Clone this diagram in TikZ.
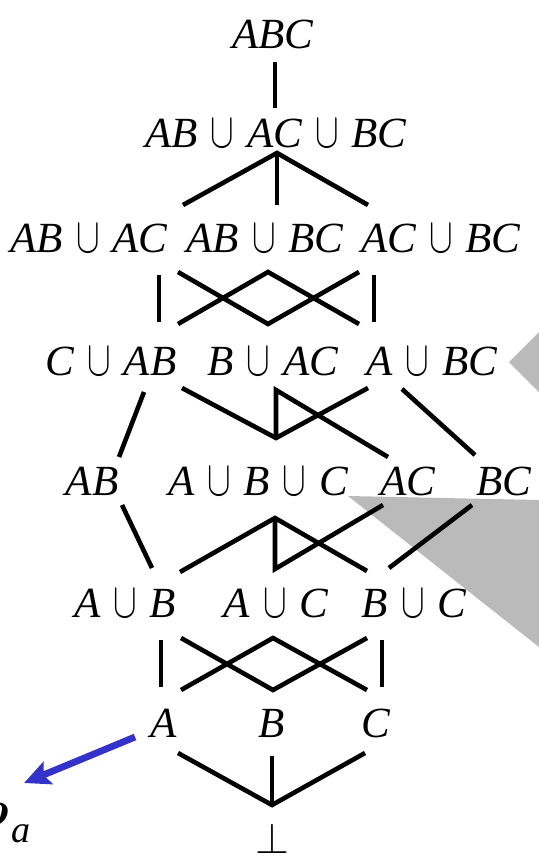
\documentclass[tikz,border=0pt]{standalone}
\usepackage{amsmath, amssymb}
\usepackage{fontspec}
\setmainfont{Liberation Serif}
\usepackage{xcolor}
\usepackage{tikz}
\usetikzlibrary{arrows.meta}

\definecolor{pointerblue}{RGB}{51,51,204}
\definecolor{shadegray}{gray}{0.73}
\newcommand{\un}{\hspace{0.3em}\scalebox{0.85}[1.2]{$\cup$}\hspace{0.3em}}

\begin{document}
\begin{tikzpicture}[
    x=0.5pt, y=-0.5pt,
    lbl/.style={inner sep=0pt, anchor=base, font=\fontsize{21.5}{25}\selectfont\itshape},
    edge/.style={line width=2.3pt, line join=miter},
    pointer/.style={line width=3.4pt, draw=pointerblue, -{Stealth[length=13pt, width=12pt, inset=2.5pt]}}
]
\clip (0,0) rectangle (539,857);

% Grey callouts (behind everything)
\fill[shadegray] (509,362) -- (539,332) -- (539,392) -- cycle;
\fill[shadegray] (348,496) -- (539,500) -- (539,647) -- cycle;

% Top
\node[lbl] (abc) at (273,48) {ABC};
\node[lbl] (abacbc) at (276,147) {AB\un AC\un BC};

% Unions of two pairs
\node[lbl] (abac) at (89,252) {AB\un AC};
\node[lbl] (abbc) at (265,252) {AB\un BC};
\node[lbl] (acbc) at (441,252) {AC\un BC};

% Pair plus single
\node[lbl] (cab) at (111,375) {C\un AB};
\node[lbl] (bac) at (273,375) {B\un AC};
\node[lbl] (abc2) at (432,375) {A\un BC};

% Pairs and all singles
\node[lbl] (ab) at (92,495) {AB};
\node[lbl] (aubuc) at (258,495) {A\un B\un C};
\node[lbl] (ac) at (408,495) {AC};
\node[lbl] (bc) at (504,495) {BC};

% Two singles
\node[lbl] (aub) at (125,617) {A\un B};
\node[lbl] (auc) at (276,617) {A\un C};
\node[lbl] (buc) at (414,617) {B\un C};

% Singles and bottom
\node[lbl] (a) at (164,737) {A};
\node[lbl] (b) at (272,737) {B};
\node[lbl] (c) at (376,737) {C};
\node[lbl] (bot) at (272,853) {\scalebox{1.05}{$\bot$}};

% Junctions
\coordinate (j1) at (277,153);
\coordinate (j2) at (276,438);
\coordinate (j3) at (276,390);
\coordinate (j4) at (275,518);
\coordinate (j5) at (275,569);
\coordinate (j6) at (272,805);

% Connections
\draw[edge] (275,62) -- (275,108);
\draw[edge] (183,205) -- (j1) -- (368,205);
\draw[edge] (j1) -- (277,205);

\draw[edge] (159,275) -- (159,322);
\draw[edge] (374,275) -- (374,322);
\draw[edge] (178,272) -- (268,324) -- (359,272);
\draw[edge] (178,324) -- (268,272) -- (359,324);

\draw[edge] (144,392) -- (119,457);
\draw[edge] (182,388) -- (j2) -- (368,388);
\draw[edge] (j2) -- (j3) -- (388,457);
\draw[edge] (402,389) -- (475,455);

\draw[edge] (122,505) -- (152,568);
\draw[edge] (180,572) -- (j4) -- (367,571);
\draw[edge] (j4) -- (j5) -- (383,505);
\draw[edge] (472,505) -- (389,568);

\draw[edge] (161,640) -- (161,687);
\draw[edge] (382,640) -- (382,687);
\draw[edge] (181,638) -- (273,690) -- (367,638);
\draw[edge] (181,690) -- (273,638) -- (367,690);

\draw[edge] (178,753) -- (j6) -- (365,753);
\draw[edge] (272,756) -- (j6);

% Pointer to the cut-off label
\node[inner sep=0pt, anchor=base east] (rho) at (31,825)
    {\fontsize{37}{40}\selectfont$\boldsymbol{\rho}$\hspace{1.5pt}\raisebox{-8.5pt}{\fontsize{19}{20}\selectfont\itshape a}};
\coordinate (tail) at (135,737);
\coordinate (tip) at (24,783);
\draw[pointer] (tail) -- (tip);

\end{tikzpicture}
\end{document}
